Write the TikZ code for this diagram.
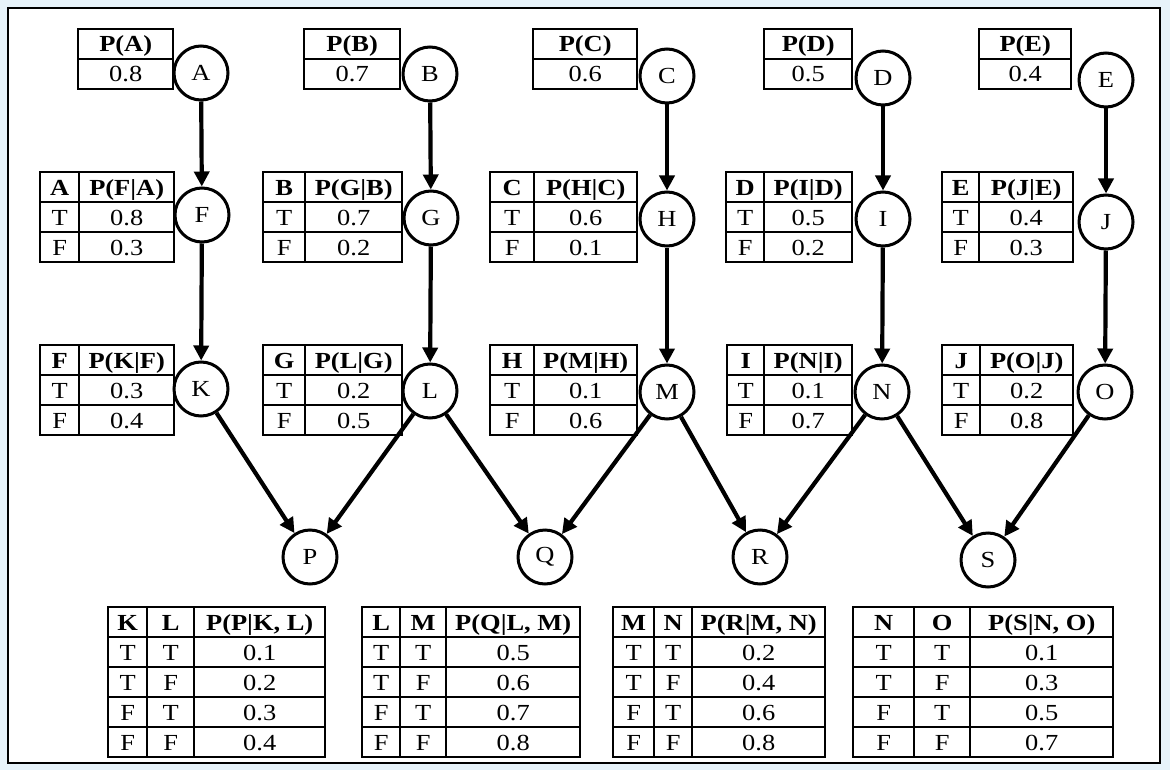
\documentclass[tikz,border=0pt]{standalone}
\usepackage{fontspec}
\setmainfont{Liberation Serif}[FakeStretch=1.15]
\usetikzlibrary{arrows.meta,matrix}
\definecolor{pagebg}{RGB}{231,243,250}
\newcommand{\cptsize}{\fontsize{11.5}{14}\selectfont}
\tikzset{var/.style={circle, draw, line width=1.5pt, minimum size=27pt, inner sep=0pt, font=\cptsize}, link/.style={line width=2.1pt, -{Triangle[length=7.5pt,width=7.5pt]}}, cpt/.style={matrix of nodes, anchor=north west, inner sep=0pt, column sep=-0.8pt, row sep=-0.8pt, nodes={draw, line width=0.8pt, anchor=center, inner sep=0pt, minimum height=15pt, text height=9pt, text depth=1.2pt, font=\cptsize}, row 1/.style={nodes={font=\cptsize\bfseries}}}, wa/.style={column 1/.style={nodes={minimum width=#1}}}, wb/.style={column 2/.style={nodes={minimum width=#1}}}, wc/.style={column 3/.style={nodes={minimum width=#1}}}}
\begin{document}
\begin{tikzpicture}[x=0.5pt,y=-0.5pt]
\useasboundingbox (0,0) rectangle (1170,770);
\fill[pagebg] (0,0) rectangle (1170,770);
\draw[fill=white, line width=0.8pt] (8,8) rectangle (1160,763);
\matrix[cpt, wa=47.5pt] (tA) at (77,28) {P(A)\\0.8\\};
\matrix[cpt, wa=48pt] (tB) at (303,28) {P(B)\\0.7\\};
\matrix[cpt, wa=52pt] (tC) at (532,28) {P(C)\\0.6\\};
\matrix[cpt, wa=44pt] (tD) at (763,28) {P(D)\\0.5\\};
\matrix[cpt, wa=46pt] (tE) at (978,28) {P(E)\\0.4\\};
\matrix[cpt, wa=19.5pt, wb=47.5pt] (tF) at (39,171) {A & P(F|A)\\T & 0.8\\F & 0.3\\};
\matrix[cpt, wa=21pt, wb=48.5pt] (tG) at (262,171) {B & P(G|B)\\T & 0.7\\F & 0.2\\};
\matrix[cpt, wa=22pt, wb=51.5pt] (tH) at (489,171) {C & P(H|C)\\T & 0.6\\F & 0.1\\};
\matrix[cpt, wa=19pt, wb=44pt] (tI) at (725,171) {D & P(I|D)\\T & 0.5\\F & 0.2\\};
\matrix[cpt, wa=18.5pt, wb=47pt] (tJ) at (941,171) {E & P(J|E)\\T & 0.4\\F & 0.3\\};
\matrix[cpt, wa=19.5pt, wb=47.5pt] (tK) at (39,344) {F & P(K|F)\\T & 0.3\\F & 0.4\\};
\matrix[cpt, wa=21pt, wb=48.5pt] (tL) at (262,344) {G & P(L|G)\\T & 0.2\\F & 0.5\\};
\matrix[cpt, wa=22pt, wb=51.5pt] (tM) at (489,344) {H & P(M|H)\\T & 0.1\\F & 0.6\\};
\matrix[cpt, wa=18.5pt, wb=44pt] (tN) at (726,344) {I & P(N|I)\\T & 0.1\\F & 0.7\\};
\matrix[cpt, wa=19pt, wb=46.5pt] (tO) at (941,344) {J & P(O|J)\\T & 0.2\\F & 0.8\\};
\matrix[cpt, wa=19.5pt, wb=23.5pt, wc=65.5pt] (tP) at (107,606) {K & L & P(P|K, L)\\T & T & 0.1\\T & F & 0.2\\F & T & 0.3\\F & F & 0.4\\};
\matrix[cpt, wa=19pt, wb=23pt, wc=67pt] (tQ) at (361,606) {L & M & P(Q|L, M)\\T & T & 0.5\\T & F & 0.6\\F & T & 0.7\\F & F & 0.8\\};
\matrix[cpt, wa=20.5pt, wb=19pt, wc=66.5pt] (tR) at (612,606) {M & N & P(R|M, N)\\T & T & 0.2\\T & F & 0.4\\F & T & 0.6\\F & F & 0.8\\};
\matrix[cpt, wa=30.5pt, wb=28pt, wc=71.5pt] (tS) at (852,606) {N & O & P(S|N, O)\\T & T & 0.1\\T & F & 0.3\\F & T & 0.5\\F & F & 0.7\\};
\foreach \n/\x/\y in {A/201/73, B/430/74, C/667/76, D/883/78, E/1106/80, F/202/215, G/431/218, H/667/219, I/883/219, J/1106/222, K/201/389, L/430/391, M/667/392, N/882/392, O/1105/392, P/310/557, Q/545/557, R/760/557, S/988/560}
  \node[var] (\n) at (\x,\y) {\n};
\foreach \a/\b in {A/F, B/G, C/H, D/I, E/J, F/K, G/L, H/M, I/N, J/O, K/P, L/P, L/Q, M/Q, M/R, N/R, N/S, O/S}
  \draw[link] (\a) -- (\b);
\end{tikzpicture}
\end{document}
